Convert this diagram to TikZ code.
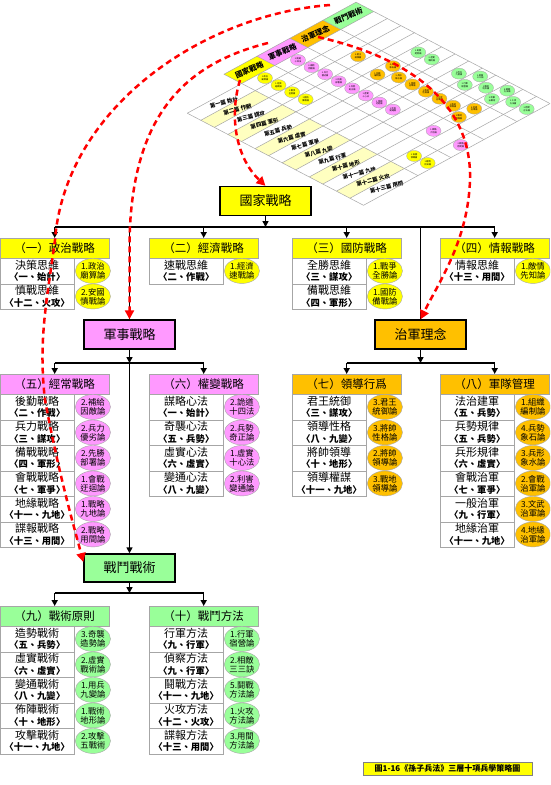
\documentclass[tikz,border=0pt]{standalone}
\usepackage{fontspec}
\setmainfont{Noto Sans CJK TC}
\usetikzlibrary{arrows.meta,calc,shapes.geometric}
\definecolor{yel}{HTML}{FFFF00}
\definecolor{pnk}{HTML}{FF99FF}
\definecolor{org}{HTML}{FFC000}
\definecolor{grn}{HTML}{99FF99}
\definecolor{rowyel}{HTML}{FFFFC0}
\definecolor{gridc}{HTML}{A6A6A6}
\definecolor{redd}{HTML}{FF0000}
\newcommand{\srow}[7]{%
  \node[cellbox] (#1t) at (#2,#3) {#4\\{\bfseries\fontsize{9.3}{10}\selectfont #5}};%
  \node[ell, fill=#6] (#1e) at ($(#1t.east)+(18.5,0)$) {#7};%
}
\begin{document}
\begin{tikzpicture}[x=1pt,y=-1pt,
  cellbox/.style={draw=gridc, fill=white, minimum width=74pt, minimum height=25.5pt, inner sep=0pt, align=center, anchor=north west, font=\fontsize{11}{11.5}\selectfont},
  hdr/.style={draw=gridc, minimum width=109pt, minimum height=20pt, inner sep=0pt, anchor=north west, font=\fontsize{11.5}{12}\selectfont},
  ell/.style={ellipse, draw=gridc, minimum width=32pt, minimum height=25pt, inner sep=0pt, align=center, font=\fontsize{8.3}{9}\selectfont},
  mainbox/.style={draw=black, line width=1.4pt, minimum width=91pt, minimum height=29pt, inner sep=0pt, font=\fontsize{13}{14}\selectfont},
  barline/.style={line width=1.5pt},
  conn/.style={line width=1.5pt, -{Triangle[length=6pt,width=6pt]}},
  redarc/.style={draw=redd, line width=2.5pt, dash pattern=on 6pt off 4pt, -{Triangle[length=9pt,width=9pt]}},
  gridl/.style={draw=gridc, line width=0.5pt},
  rowlab/.style={rotate=15, inner sep=0pt, font=\bfseries\fontsize{5.5}{6}\selectfont},
  thlab/.style={rotate=22, inner sep=0pt, font=\bfseries\fontsize{7.5}{8}\selectfont},
  tell/.style={ellipse, draw=gridc, line width=0.3pt, minimum width=15pt, minimum height=11pt, inner sep=0pt, align=center, font=\fontsize{2.2}{2.6}\selectfont},
]
\useasboundingbox (0,0) rectangle (550,785);
\fill[white] (0,0) rectangle (550,785);
\clip (0,0) rectangle (550,785);

% ---------------- oblique table ----------------
\begin{scope}[shift={(241.7,83.5)}, x={(0.878pt,0.479pt)}, y={(0.886pt,-0.463pt)}]
  \foreach \k/\t in {1/第一篇 始計,2/第二篇 作戰,3/第三篇 謀攻,4/第四篇 軍形,5/第五篇 兵勢,6/第六篇 虛實,7/第七篇 軍爭,8/第八篇 九變,9/第九篇 行軍,10/第十篇 地形,11/第十一篇 九地,12/第十二篇 火攻,13/第十三篇 用間}{
    \ifodd\k\else
      \fill[rowyel] (-62,{(\k-1)*15.3}) -- (0,{(\k-1)*15.3}) -- (0,{\k*15.3}) -- (-62,{\k*15.3}) -- cycle;
    \fi
    \node[rowlab] (rh\k) at (-30,{(\k-0.5)*15.3+2}) {\t};
  }
  \foreach \k/\t/\c in {1/國家戰略/yel,2/軍事戰略/pnk,3/治軍理念/org,4/戰鬥戰術/grn}{
    \fill[\c] ({(\k-1)*37.6},-20) -- ({\k*37.6},-20) -- ({\k*37.6},0) -- ({(\k-1)*37.6},0) -- cycle;
    \node[thlab] (th\k) at ({(\k-0.5)*37.6},-10) {\t};
  }
  \foreach \k in {0,...,13} \draw[gridl] (-62,{\k*15.3}) -- (150.4,{\k*15.3});
  \draw[gridl] (0,-20) -- (150.4,-20);
  \foreach \k in {0,...,4} \draw[gridl] ({\k*37.6},-20) -- ({\k*37.6},198.9);
  \draw[gridl] (-62,0) -- (-62,198.9);
  \foreach \cc/\rr/\o/\f/\t [count=\n] in {
    1/1/0/yel/{1.政治\\廟算論},1/2/0/yel/{1.經濟\\速戰論},1/3/0/yel/{1.戰爭\\全勝論},1/4/0/yel/{1.國防\\備戰論},1/12/0/yel/{2.安國\\慎戰論},1/13/0/yel/{1.敵情\\先知論},
    2/1/0/pnk/{2.詭道\\十四法},2/2/0/pnk/{2.補給\\因敵論},2/3/0/pnk/{2.兵力\\優劣論},2/4/0/pnk/{2.先勝\\部署論},2/5/0/pnk/{2.兵勢\\奇正論},2/6/0/pnk/{1.虛實\\十心法},2/7/0/pnk/{1.會戰\\迂迴論},2/8/0/pnk/{2.利害\\變通論},2/11/0/pnk/{1.戰略\\九地論},2/13/0/pnk/{2.戰略\\用間論},
    3/3/0/org/{3.君王\\統御論},3/5/-8.75/org/{1.組織\\編制論},3/5/8.75/org/{4.兵勢\\象石論},3/6/0/org/{3.兵形\\象水論},3/7/0/org/{2.會戰\\治軍論},3/8/0/org/{3.將帥\\性格論},3/9/0/org/{3.文武\\治軍論},3/10/0/org/{2.將帥\\領導論},3/11/-8.75/org/{3.戰地\\領導論},3/11/8.75/org/{4.地緣\\治軍論},
    4/5/0/grn/{3.奇襲\\造勢論},4/6/0/grn/{2.虛實\\戰術論},4/8/0/grn/{1.用兵\\九變論},4/9/-8.75/grn/{1.行軍\\宿營論},4/9/8.75/grn/{2.相敵\\三三訣},4/10/0/grn/{1.戰術\\地形論},4/11/-8.75/grn/{2.攻擊\\五戰術},4/11/8.75/grn/{5.鬪戰\\方法論},4/12/0/grn/{1.火攻\\方法論},4/13/0/grn/{3.用間\\方法論}}{
    \node[tell, fill=\f] (te\n) at ({(\cc-0.5)*37.6+\o},{(\rr-0.5)*15.3}) {\t};
  }
\end{scope}

% ---------------- level 1 ----------------
\node[mainbox, fill=yel] (nat) at (265.5,201) {國家戰略};
\node[hdr, fill=yel] (h1) at (0,238) {（一）政治戰略};
\srow{s1r1}{0}{258}{決策思維}{〈一、始計〉}{yel}{1.政治\\廟算論}
\srow{s1r2}{0}{283.5}{慎戰思維}{〈十二、火攻〉}{yel}{2.安國\\慎戰論}
\node[hdr, fill=yel] (h2) at (149,238) {（二）經濟戰略};
\srow{s2r1}{149}{258}{速戰思維}{〈二、作戰〉}{yel}{1.經濟\\速戰論}
\node[hdr, fill=yel] (h3) at (292,238) {（三）國防戰略};
\srow{s3r1}{292}{258}{全勝思維}{〈三、謀攻〉}{yel}{1.戰爭\\全勝論}
\srow{s3r2}{292}{283.5}{備戰思維}{〈四、軍形〉}{yel}{1.國防\\備戰論}
\node[hdr, fill=yel] (h4) at (440,238) {（四）情報戰略};
\srow{s4r1}{440}{258}{情報思維}{〈十三、用間〉}{yel}{1.敵情\\先知論}

% ---------------- level 2 ----------------
\node[mainbox, fill=pnk] (mil) at (129.5,334.5) {軍事戰略};
\node[mainbox, fill=org] (gov) at (420.5,334.5) {治軍理念};
\node[hdr, fill=pnk] (h5) at (0,374) {（五）經常戰略};
\srow{s5r1}{0}{394}{後勤戰略}{〈二、作戰〉}{pnk}{2.補給\\因敵論}
\srow{s5r2}{0}{419.5}{兵力戰略}{〈三、謀攻〉}{pnk}{2.兵力\\優劣論}
\srow{s5r3}{0}{445}{備戰戰略}{〈四、軍形〉}{pnk}{2.先勝\\部署論}
\srow{s5r4}{0}{470.5}{會戰戰略}{〈七、軍爭〉}{pnk}{1.會戰\\迂迴論}
\srow{s5r5}{0}{496}{地緣戰略}{〈十一、九地〉}{pnk}{1.戰略\\九地論}
\srow{s5r6}{0}{521.5}{諜報戰略}{〈十三、用間〉}{pnk}{2.戰略\\用間論}
\node[hdr, fill=pnk] (h6) at (149,374) {（六）權變戰略};
\srow{s6r1}{149}{394}{謀略心法}{〈一、始計〉}{pnk}{2.詭道\\十四法}
\srow{s6r2}{149}{419.5}{奇襲心法}{〈五、兵勢〉}{pnk}{2.兵勢\\奇正論}
\srow{s6r3}{149}{445}{虛實心法}{〈六、虛實〉}{pnk}{1.虛實\\十心法}
\srow{s6r4}{149}{470.5}{變通心法}{〈八、九變〉}{pnk}{2.利害\\變通論}
\node[hdr, fill=org] (h7) at (292,374) {（七）領導行爲};
\srow{s7r1}{292}{394}{君王統御}{〈三、謀攻〉}{org}{3.君王\\統御論}
\srow{s7r2}{292}{419.5}{領導性格}{〈八、九變〉}{org}{3.將帥\\性格論}
\srow{s7r3}{292}{445}{將帥領導}{〈十、地形〉}{org}{2.將帥\\領導論}
\srow{s7r4}{292}{470.5}{領導權謀}{〈十一、九地〉}{org}{3.戰地\\領導論}
\node[hdr, fill=org] (h8) at (440,374) {（八）軍隊管理};
\srow{s8r1}{440}{394}{法治建軍}{〈五、兵勢〉}{org}{1.組織\\編制論}
\srow{s8r2}{440}{419.5}{兵勢規律}{〈五、兵勢〉}{org}{4.兵勢\\象石論}
\srow{s8r3}{440}{445}{兵形規律}{〈六、虛實〉}{org}{3.兵形\\象水論}
\srow{s8r4}{440}{470.5}{會戰治軍}{〈七、軍爭〉}{org}{2.會戰\\治軍論}
\srow{s8r5}{440}{496}{一般治軍}{〈九、行軍〉}{org}{3.文武\\治軍論}
\srow{s8r6}{440}{521.5}{地緣治軍}{〈十一、九地〉}{org}{4.地緣\\治軍論}

% ---------------- level 3 ----------------
\node[mainbox, fill=grn, minimum height=28pt] (cbt) at (129.5,568) {戰鬥戰術};
\node[hdr, fill=grn] (h9) at (0,606) {（九）戰術原則};
\srow{s9r1}{0}{626}{造勢戰術}{〈五、兵勢〉}{grn}{3.奇襲\\造勢論}
\srow{s9r2}{0}{651.5}{虛實戰術}{〈六、虛實〉}{grn}{2.虛實\\戰術論}
\srow{s9r3}{0}{677}{變通戰術}{〈八、九變〉}{grn}{1.用兵\\九變論}
\srow{s9r4}{0}{702.5}{佈陣戰術}{〈十、地形〉}{grn}{1.戰術\\地形論}
\srow{s9r5}{0}{728}{攻擊戰術}{〈十一、九地〉}{grn}{2.攻擊\\五戰術}
\node[hdr, fill=grn] (h10) at (149,606) {（十）戰鬥方法};
\srow{s10r1}{149}{626}{行軍方法}{〈九、行軍〉}{grn}{1.行軍\\宿營論}
\srow{s10r2}{149}{651.5}{偵察方法}{〈九、行軍〉}{grn}{2.相敵\\三三訣}
\srow{s10r3}{149}{677}{鬪戰方法}{〈十一、九地〉}{grn}{5.鬪戰\\方法論}
\srow{s10r4}{149}{702.5}{火攻方法}{〈十二、火攻〉}{grn}{1.火攻\\方法論}
\srow{s10r5}{149}{728}{諜報方法}{〈十三、用間〉}{grn}{3.用間\\方法論}

\node[draw=gray, fill=yel, minimum width=169pt, minimum height=13pt, inner sep=0pt, font=\bfseries\fontsize{8}{9}\selectfont] (cap) at (447.5,768.5) {圖1-16《孫子兵法》三層十項兵學策略圖};

% ---------------- connectors ----------------
\coordinate (bus1) at (265.5,227);
\draw[conn] (nat.south) -- (bus1);
\draw[barline] (h1.north |- bus1) -- (h4.north |- bus1);
\foreach \h in {h1,h2,h3,h4} \draw[conn] (\h.north |- bus1) -- (\h.north);
\draw[barline] (mil.north |- bus1) -- (mil.north);
\draw[barline] (gov.north |- bus1) -- (gov.north);

\coordinate (bus2) at (129.5,363);
\draw[conn] (mil.south) -- (bus2);
\draw[barline] (h5.north |- bus2) -- (h6.north |- bus2);
\foreach \h in {h5,h6} \draw[conn] (\h.north |- bus2) -- (\h.north);
\draw[conn] (bus2) -- (cbt.north);

\coordinate (bus3) at (420.5,363);
\draw[conn] (gov.south) -- (bus3);
\draw[barline] (h7.north |- bus3) -- (h8.north |- bus3);
\foreach \h in {h7,h8} \draw[conn] (\h.north |- bus3) -- (\h.north);

\coordinate (bus4) at (129.5,593);
\draw[conn] (cbt.south) -- (bus4);
\draw[barline] (h9.north |- bus4) -- (h10.north |- bus4);
\foreach \h in {h9,h10} \draw[conn] (\h.north |- bus4) -- (\h.north);

% ---------------- red dashed arcs ----------------
\coordinate (r1s) at (240,80);
\draw[redarc] (r1s) .. controls (228,120) and (238,160) .. (nat.north);
\coordinate (r2s) at (268,43);
\draw[redarc] (r2s) .. controls (180,65) and (132,120) .. (129.5,240) -- (mil.north);
\coordinate (r3s) at (330,5);
\draw[redarc] (r3s) .. controls (200,15) and (65,110) .. (55,240) .. controls (47,300) and (38,340) .. (45,400) .. controls (60,480) and (75,530) .. ($(cbt.west)+(0,-6)$);
\coordinate (r4s) at (318,37);
\draw[redarc] (r4s) .. controls (420,60) and (472,110) .. (470,180) .. controls (468,240) and (440,280) .. (gov.north);
\end{tikzpicture}
\end{document}
